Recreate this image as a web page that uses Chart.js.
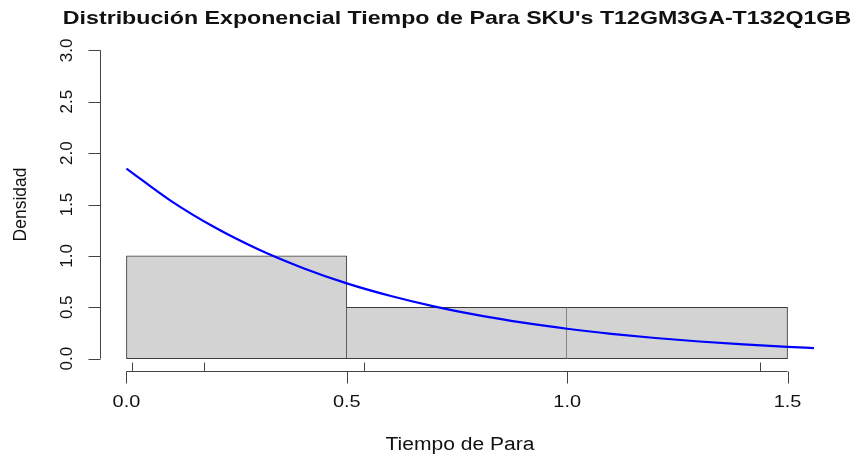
<!DOCTYPE html>
<html>
<head>
<meta charset="utf-8">
<script src="https://cdn.jsdelivr.net/npm/chart.js@4"></script>
<style>
  html, body { margin: 0; padding: 0; background: #ffffff; }
  #wrap { width: 857px; height: 459px; }
</style>
</head>
<body>
<div id="wrap"><canvas id="this-graph" width="857" height="459"></canvas></div>
<script>
// histogram bins (density scale)
const binStarts = [0.0, 0.5, 1.0];
const binEnds = [0.5, 1.0, 1.5];
const densities = [1.0, 0.5, 0.5];

// fitted exponential density
const curveX = [0.0, 0.1, 0.2, 0.3, 0.4, 0.5, 0.6, 0.7, 0.8, 0.9, 1.0, 1.1, 1.2, 1.3, 1.4, 1.5, 1.56];
const curveY = [1.85, 1.538, 1.278, 1.062, 0.883, 0.733, 0.61, 0.507, 0.421, 0.35, 0.291, 0.242, 0.201, 0.167, 0.139, 0.115, 0.103];

// rug (observed stop times)
const rugX = [0.013, 0.176, 0.54, 1.437];

const xTicks = [0.0, 0.5, 1.0, 1.5];
const xTickLabels = ["0.0", "0.5", "1.0", "1.5"];
const yTicks = [0.0, 0.5, 1.0, 1.5, 2.0, 2.5, 3.0];
const yTickLabels = ["0.0", "0.5", "1.0", "1.5", "2.0", "2.5", "3.0"];

const title = "Distribución Exponencial Tiempo de Para SKU's T12GM3GA-T132Q1GB";
const xTitle = "Tiempo de Para";
const yTitle = "Densidad";

const FONT = "'Liberation Sans', Arial, sans-serif";
const AXIS_COLOR = "#444444";

function drawText(ctx, text, x, y, font, align, stretch, rotate) {
    ctx.save();
    ctx.translate(x, y);
    if (rotate) ctx.rotate(rotate);
    ctx.scale(stretch, 1);
    ctx.font = font;
    ctx.textAlign = align;
    ctx.textBaseline = "middle";
    ctx.fillStyle = "#111";
    ctx.fillText(text, 0, 0);
    ctx.restore();
}

// R-style axes, rug and titles
const rAxes = {
    id: "rAxes",
    afterDraw(chart) {
        var ctx = chart.ctx
        var xs = chart.scales.x
        var ys = chart.scales.y
        var area = chart.chartArea

        ctx.save()
        ctx.strokeStyle = AXIS_COLOR
        ctx.lineWidth = 1

        // x axis
        var yAx = Math.round(area.bottom) + 0.5
        ctx.beginPath()
        ctx.moveTo(xs.getPixelForValue(xTicks[0]), yAx)
        ctx.lineTo(xs.getPixelForValue(xTicks[xTicks.length - 1]), yAx)
        xTicks.forEach(function (v) {
            var px = Math.round(xs.getPixelForValue(v)) + 0.5
            ctx.moveTo(px, yAx)
            ctx.lineTo(px, yAx + 12)
        })
        ctx.stroke()

        // rug
        ctx.beginPath()
        rugX.forEach(function (v) {
            var px = Math.round(xs.getPixelForValue(v)) + 0.5
            ctx.moveTo(px, yAx)
            ctx.lineTo(px, yAx - 9)
        })
        ctx.stroke()

        // y axis
        var xAx = Math.round(area.left) + 0.5
        ctx.beginPath()
        ctx.moveTo(xAx, ys.getPixelForValue(yTicks[0]))
        ctx.lineTo(xAx, ys.getPixelForValue(yTicks[yTicks.length - 1]))
        yTicks.forEach(function (v) {
            var py = Math.round(ys.getPixelForValue(v)) + 0.5
            ctx.moveTo(xAx, py)
            ctx.lineTo(xAx - 12, py)
        })
        ctx.stroke()
        ctx.restore()

        // tick labels
        xTicks.forEach(function (v, i) {
            drawText(ctx, xTickLabels[i], xs.getPixelForValue(v), yAx + 31, "17px " + FONT, "center", 1.17, 0)
        })
        yTicks.forEach(function (v, i) {
            drawText(ctx, yTickLabels[i], xAx - 33, ys.getPixelForValue(v), "17px " + FONT, "center", 1, -Math.PI / 2)
        })

        // titles
        var cx = (area.left + area.right) / 2
        drawText(ctx, title, cx, 19, "bold 19px " + FONT, "center", 1.22, 0)
        drawText(ctx, xTitle, cx + 3, 445, "18px " + FONT, "center", 1.17, 0)
        drawText(ctx, yTitle, 21, (area.top + area.bottom) / 2, "17.5px " + FONT, "center", 1, -Math.PI / 2)
    }
}

var barData = binStarts.map(function (s, i) {
    return { x: (s + binEnds[i]) / 2, y: densities[i] }
})
var curveData = curveX.map(function (x, i) {
    return { x: x, y: curveY[i] }
})

var graph = document.getElementById("this-graph")
var myChart = new Chart(graph, {
    type: "bar",
    data: {
        datasets: [
            {
                type: "line",
                data: curveData,
                borderColor: "#0000ff",
                borderWidth: 2.2,
                pointRadius: 0,
                fill: false,
                cubicInterpolationMode: "monotone",
                order: 0
            },
            {
                type: "bar",
                data: barData,
                backgroundColor: "#d3d3d3",
                borderColor: "#3c3c3c",
                borderWidth: function (c) {
                    return { top: 1, bottom: 1, right: 1, left: c.dataIndex === 0 ? 1 : 0 }
                },
                borderSkipped: false,
                barPercentage: 1,
                categoryPercentage: 1,
                order: 1
            }
        ]
    },
    options: {
        responsive: false,
        animation: false,
        layout: { padding: { left: 100, right: 43, top: 38, bottom: 88 } },
        plugins: {
            legend: { display: false },
            tooltip: { enabled: false },
            title: { display: false }
        },
        scales: {
            x: {
                type: "linear",
                min: -0.06,
                max: 1.56,
                offset: false,
                display: false,
                afterBuildTicks: function (scale) {
                    scale.ticks = xTicks.map(function (v) { return { value: v } })
                }
            },
            y: {
                type: "linear",
                min: -0.12,
                max: 3.12,
                display: false,
                afterBuildTicks: function (scale) {
                    scale.ticks = yTicks.map(function (v) { return { value: v } })
                }
            }
        }
    },
    plugins: [rAxes]
})
</script>
</body>
</html>
